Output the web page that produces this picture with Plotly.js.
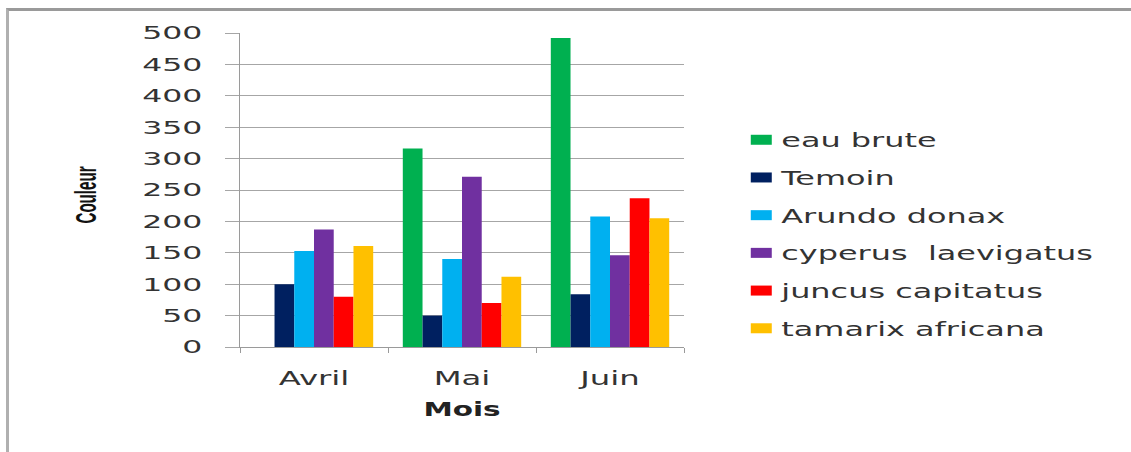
<!DOCTYPE html>
<html>
<head>
<meta charset="utf-8">
<script src="https://cdn.plot.ly/plotly-3.0.1.min.js"></script>
<style>
  html, body { margin: 0; padding: 0; background: #fff; }
  #wrap { position: relative; width: 1131px; height: 452px; overflow: hidden; }
  #chart { position: absolute; left: 0; top: 0; width: 1131px; height: 452px; }
  #frame { position: absolute; left: 6px; top: 8px; width: 1130px; height: 450px;
           border-top: 3px solid #9a9a9a; border-left: 3px solid #b0b0b0; pointer-events: none; }
</style>
</head>
<body>
<div id="wrap">
  <div id="chart"></div>
  <div id="frame"></div>
</div>
<script>
const months = ["Avril", "Mai", "Juin"];
const seriesNames = ["eau brute", "Temoin", "Arundo donax", "cyperus  laevigatus", "juncus capitatus", "tamarix africana"];
const eauBrute = [0, 316, 492];
const temoin = [100, 50, 84];
const arundoDonax = [153, 140, 208];
const cyperusLaevigatus = [187, 271, 146];
const juncusCapitatus = [80, 70, 237];
const tamarixAfricana = [161, 112, 205];
const yTicks = [0, 50, 100, 150, 200, 250, 300, 350, 400, 450, 500];

const seriesValues = [eauBrute, temoin, arundoDonax, cyperusLaevigatus, juncusCapitatus, tamarixAfricana];
const colors = ["#00B050", "#002060", "#00B0F0", "#7030A0", "#FF0000", "#FFC000"];

const traces = seriesNames.map((name, i) => ({
  type: "bar",
  name: name,
  x: months,
  y: seriesValues[i],
  marker: { color: colors[i], line: { width: 0 } },
  legendgroup: "g" + i,
  hoverinfo: "x+y+name"
}));

const fontFam = "DejaVu Sans, Verdana, sans-serif";
const layout = {
  width: 1131,
  height: 452,
  margin: { l: 240, r: 447, t: 33, b: 105 },
  paper_bgcolor: "#ffffff",
  plot_bgcolor: "#ffffff",
  barmode: "group",
  bargap: 0.2,
  bargroupgap: 0,
  font: { family: fontFam, color: "#333333", size: 18 },
  xaxis: {
    type: "category",
    showgrid: false,
    showline: true,
    linecolor: "#9a9a9a",
    linewidth: 1,
    ticks: "outside",
    tickson: "boundaries",
    ticklen: 5,
    tickcolor: "#9a9a9a",
    tickfont: { family: fontFam, size: 19, color: "#333333" },
    ticklabelstandoff: 14,
    title: { text: "Mois", font: { family: fontFam, size: 19, color: "#222222", weight: "bold" }, standoff: 14 },
    fixedrange: true
  },
  yaxis: {
    range: [0, 500],
    tickvals: yTicks,
    ticktext: yTicks.map(String),
    showgrid: true,
    gridcolor: "#a6a6a6",
    gridwidth: 1,
    showline: true,
    linecolor: "#9a9a9a",
    linewidth: 1,
    ticks: "outside",
    ticklen: 14,
    tickcolor: "#a6a6a6",
    tickfont: { family: fontFam, size: 18, color: "#333333" },
    ticklabelstandoff: 19,
    zeroline: false,
    title: { text: "Couleur", font: { family: "Liberation Sans Narrow, Liberation Sans, sans-serif", size: 29, color: "#111111", weight: "bold" }, standoff: 63 },
    fixedrange: true
  },
  legend: {
    x: 1.129,
    xanchor: "left",
    y: 0.72,
    yanchor: "top",
    traceorder: "grouped",
    tracegroupgap: 10,
    font: { family: fontFam, size: 19, color: "#333333" },
    bgcolor: "rgba(0,0,0,0)",
    borderwidth: 0,
    itemclick: false,
    itemdoubleclick: false
  },
  showlegend: true
};

function stretch(selector, factor, fixedLen) {
  document.querySelectorAll("#chart " + selector).forEach(t => {
    const w = t.getComputedTextLength();
    if (!w) return;
    t.setAttribute("textLength", fixedLen ? fixedLen : w * factor);
    t.setAttribute("lengthAdjust", "spacingAndGlyphs");
  });
}

Plotly.newPlot("chart", traces, layout, { displayModeBar: false }).then(() => {
  stretch("g.ytick text", 1.75);
  stretch("g.xtick text", 1.7);
  stretch(".g-xtitle text", 1.55);
  stretch(".legendtext", 1.68);
  stretch(".g-ytitle text", 1, 57);
  document.querySelectorAll("#chart .g-ytitle").forEach(g => g.setAttribute("transform", "translate(1,5)"));
  document.querySelectorAll("#chart .legend .scrollbox, #chart .legend").forEach(e => e.removeAttribute("clip-path"));
  document.querySelectorAll("#chart .legend .legendpoints path").forEach(p => {
    p.setAttribute("d", "M-10.5,5H10.5V-5H-10.5Z");
  });
});
</script>
</body>
</html>
